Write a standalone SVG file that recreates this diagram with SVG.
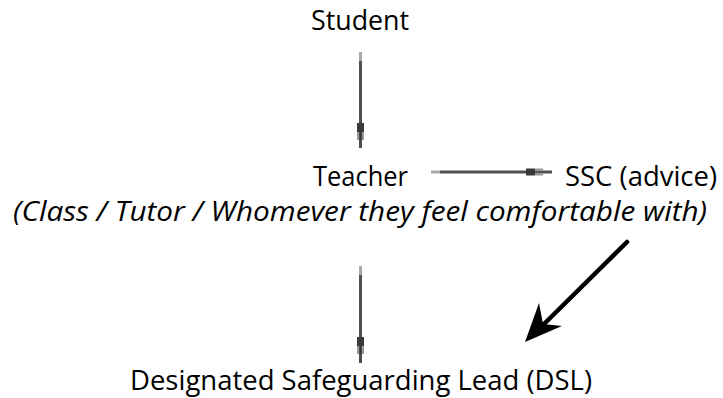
<svg xmlns="http://www.w3.org/2000/svg" width="723" height="398" viewBox="0 0 723 398">
  <defs>
    <style>
      .lbl { font-family: "Open Sans", "Noto Sans", "Liberation Sans", sans-serif; font-size: 27.5px; fill: #000; }
      .it { font-style: italic; }
      .tail { stroke: #aaa; stroke-width: 3; fill: none; }
      .shaft { stroke: #505050; stroke-width: 3; fill: none; }
      .knob { fill: #3a3a3a; }
      .knob2 { fill: #999; }
    </style>
    <filter id="soft" x="-10%" y="-10%" width="120%" height="120%">
      <feGaussianBlur stdDeviation="0.7"/>
    </filter>
  </defs>

  <rect width="723" height="398" fill="#fff"/>

  <!-- nodes -->
  <g id="student">
    <text class="lbl" x="311" y="29.5" textLength="98" lengthAdjust="spacingAndGlyphs">Student</text>
  </g>
  <g id="teacher">
    <text class="lbl" x="313" y="186" textLength="95" lengthAdjust="spacingAndGlyphs">Teacher</text>
    <text class="lbl it" x="13" y="221" textLength="694" lengthAdjust="spacingAndGlyphs">(Class / Tutor / Whomever they feel comfortable with)</text>
  </g>
  <g id="ssc">
    <text class="lbl" x="565" y="186" textLength="152" lengthAdjust="spacingAndGlyphs">SSC (advice)</text>
  </g>
  <g id="dsl">
    <text class="lbl" x="130" y="390" textLength="462" lengthAdjust="spacingAndGlyphs">Designated Safeguarding Lead (DSL)</text>
  </g>

  <!-- connectors -->
  <g id="connectors">
    <!-- Student to Teacher -->
    <line class="tail" x1="360.5" y1="52" x2="360.5" y2="61"/>
    <line class="shaft" x1="360.5" y1="61" x2="360.5" y2="148"/>
    <rect class="knob" x="357" y="123" width="7" height="9"/>
    <rect class="knob2" x="357" y="132" width="7" height="8"/>
    <line x1="360.5" y1="132" x2="360.5" y2="140" stroke="#333" stroke-width="2.5"/>

    <!-- Teacher to SSC -->
    <line class="tail" x1="431" y1="172" x2="440" y2="172"/>
    <line class="shaft" x1="440" y1="172" x2="552" y2="172"/>
    <rect class="knob" x="526" y="168.5" width="9" height="7"/>
    <rect class="knob2" x="535" y="168.5" width="8" height="7"/>
    <line x1="535" y1="172" x2="543" y2="172" stroke="#555" stroke-width="2"/>

    <!-- Teacher to DSL -->
    <line class="tail" x1="360.5" y1="266" x2="360.5" y2="275"/>
    <line class="shaft" x1="360.5" y1="275" x2="360.5" y2="363"/>
    <rect class="knob" x="357" y="337" width="7" height="9"/>
    <rect class="knob2" x="357" y="346" width="7" height="8"/>
    <line x1="360.5" y1="346" x2="360.5" y2="354" stroke="#333" stroke-width="2.5"/>

    <!-- SSC to DSL -->
    <g filter="url(#soft)">
      <line x1="627" y1="242" x2="542" y2="326" stroke="#000" stroke-width="4.5" stroke-linecap="round"/>
      <path d="M525,342 L539,303 L543,324 L562,326 Z" fill="#000"/>
    </g>
  </g>
</svg>
